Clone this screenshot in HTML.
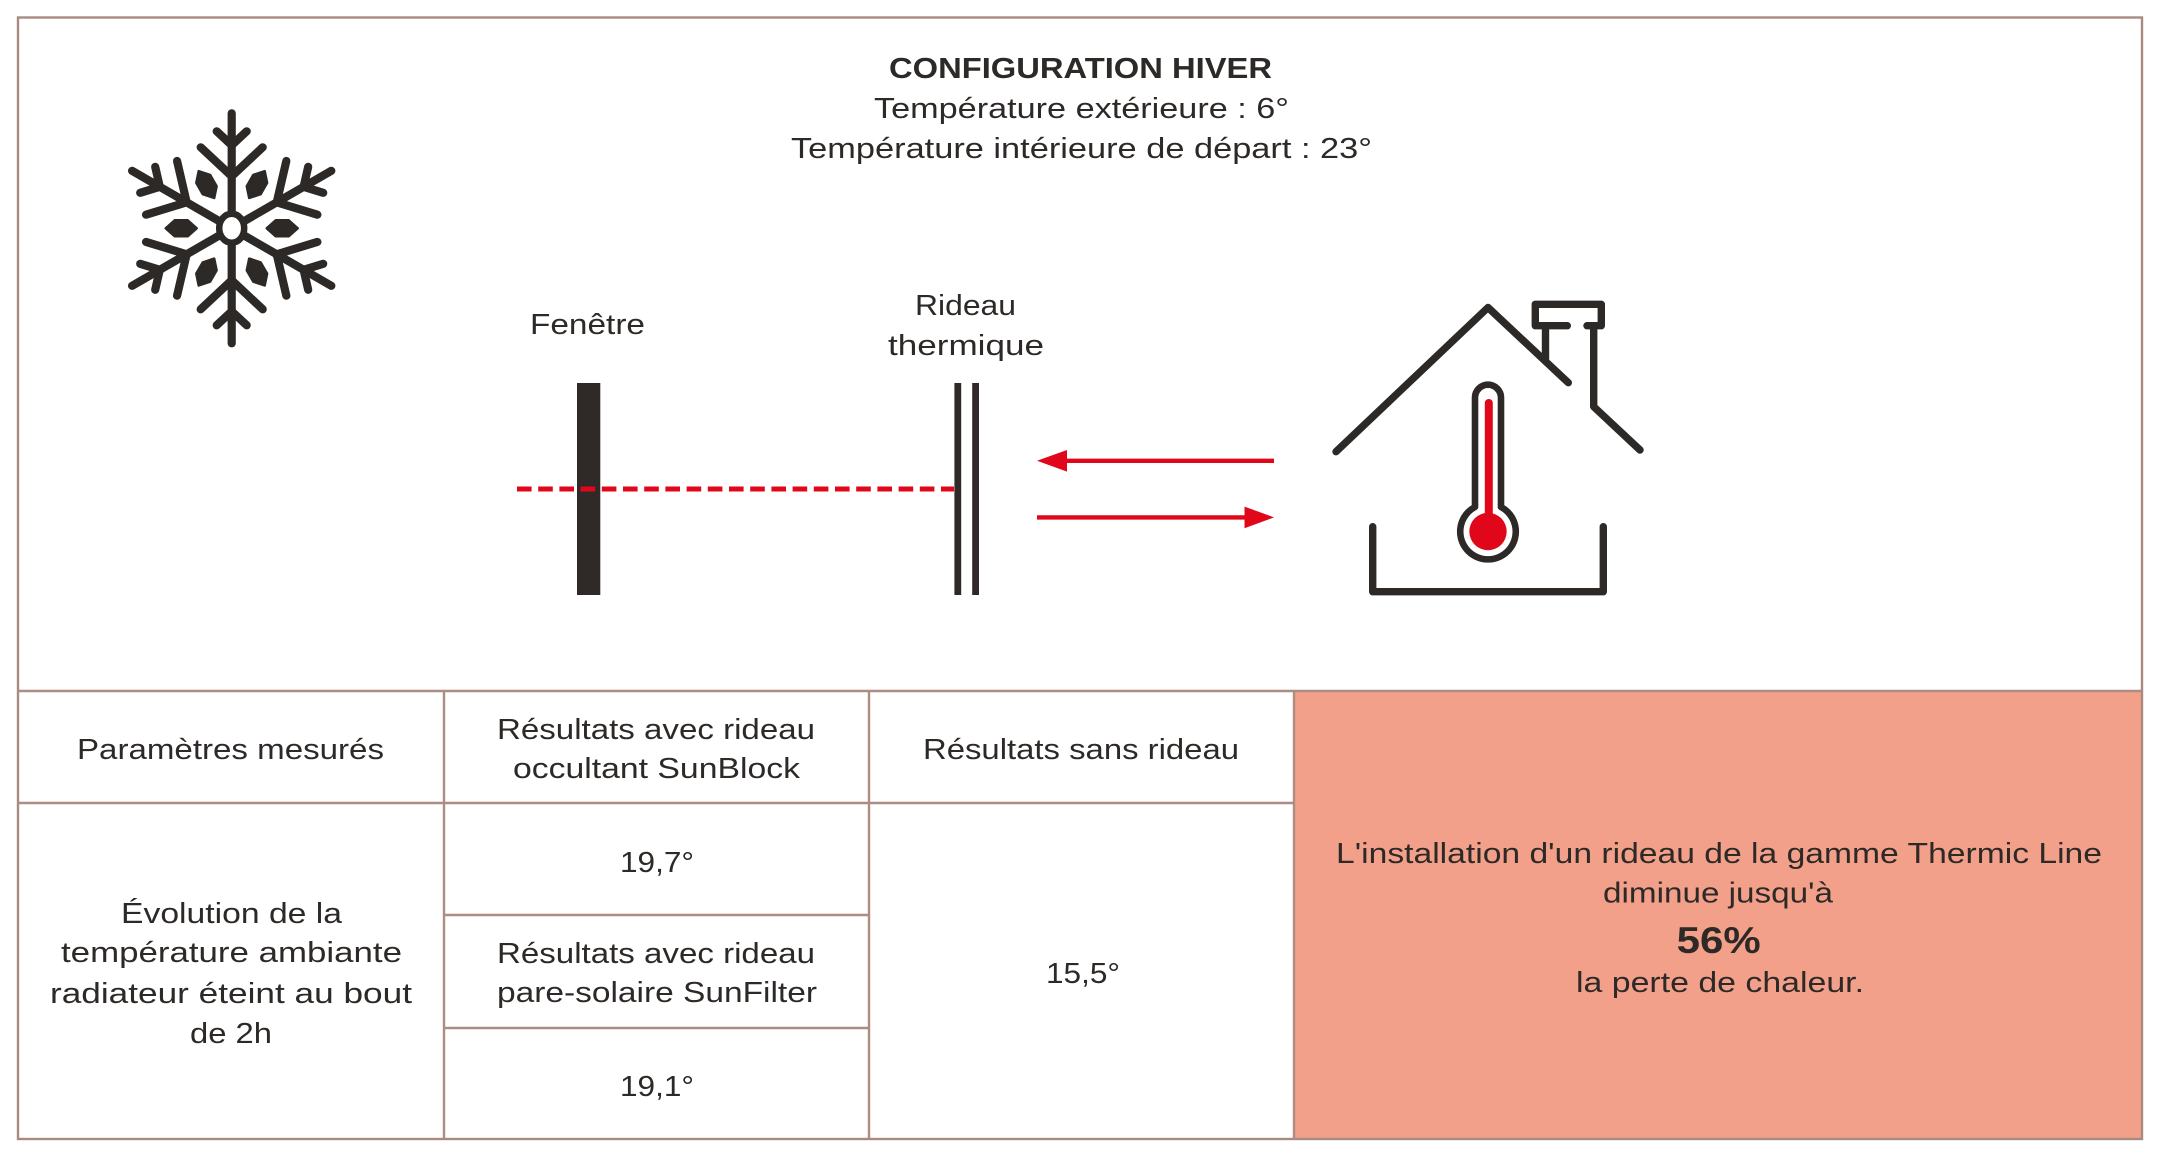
<!DOCTYPE html>
<html>
<head>
<meta charset="utf-8">
<style>
  html, body { margin:0; padding:0; background:#ffffff; }
  body { width:2161px; height:1157px; overflow:hidden; }
  svg { display:block; }
  text { font-family: "Liberation Sans", "DejaVu Sans", sans-serif; fill:#2d2927; }
</style>
</head>
<body>
<svg width="2161" height="1157" viewBox="0 0 2161 1157" xmlns="http://www.w3.org/2000/svg">
  <rect x="0" y="0" width="2161" height="1157" fill="#ffffff"/>

  <!-- Salmon result cell -->
  <rect x="1294" y="691" width="848" height="448" fill="#f3a08b"/>

  <!-- Outer border -->
  <rect x="18" y="17.5" width="2124" height="1121.5" fill="none" stroke="#a98a80" stroke-width="2.4"/>

  <!-- Table grid -->
  <g stroke="#ad8c82" stroke-width="2.4" fill="none">
    <line x1="18" y1="691" x2="2142" y2="691"/>
    <line x1="18" y1="803" x2="1294" y2="803"/>
    <line x1="444" y1="915" x2="869" y2="915"/>
    <line x1="444" y1="1028" x2="869" y2="1028"/>
    <line x1="444" y1="691" x2="444" y2="1139"/>
    <line x1="869" y1="691" x2="869" y2="1139"/>
    <line x1="1294" y1="691" x2="1294" y2="1139"/>
  </g>

  <!-- Header text -->
  <text x="1080.5" y="78" text-anchor="middle" font-size="29" font-weight="bold" textLength="383" lengthAdjust="spacingAndGlyphs">CONFIGURATION HIVER</text>
  <text x="1081.5" y="118" text-anchor="middle" font-size="29" textLength="415" lengthAdjust="spacingAndGlyphs">Température extérieure : 6°</text>
  <text x="1081.5" y="158" text-anchor="middle" font-size="29" textLength="581" lengthAdjust="spacingAndGlyphs">Température intérieure de départ : 23°</text>

  <!-- Snowflake -->
  <g transform="translate(231.7,228.3)" stroke="#2d2927" stroke-width="8.2" stroke-linecap="round" fill="none">
    <g>
      <line x1="0" y1="0" x2="0" y2="-115"/>
      <polyline points="-15,-97 0,-83 15,-97"/>
      <polyline points="-31,-81 0,-52 31,-81"/>
    </g>
    <g transform="rotate(60)">
      <line x1="0" y1="0" x2="0" y2="-115"/>
      <polyline points="-15,-97 0,-83 15,-97"/>
      <polyline points="-31,-81 0,-52 31,-81"/>
    </g>
    <g transform="rotate(120)">
      <line x1="0" y1="0" x2="0" y2="-115"/>
      <polyline points="-15,-97 0,-83 15,-97"/>
      <polyline points="-31,-81 0,-52 31,-81"/>
    </g>
    <g transform="rotate(180)">
      <line x1="0" y1="0" x2="0" y2="-115"/>
      <polyline points="-15,-97 0,-83 15,-97"/>
      <polyline points="-31,-81 0,-52 31,-81"/>
    </g>
    <g transform="rotate(240)">
      <line x1="0" y1="0" x2="0" y2="-115"/>
      <polyline points="-15,-97 0,-83 15,-97"/>
      <polyline points="-31,-81 0,-52 31,-81"/>
    </g>
    <g transform="rotate(300)">
      <line x1="0" y1="0" x2="0" y2="-115"/>
      <polyline points="-15,-97 0,-83 15,-97"/>
      <polyline points="-31,-81 0,-52 31,-81"/>
    </g>
    <g fill="#2d2927" stroke-width="2.5" stroke-linejoin="round">
      <polygon transform="rotate(30)" points="0,-35 -8,-44 -8,-57 0,-66 8,-57 8,-44"/>
      <polygon transform="rotate(90)" points="0,-35 -8,-44 -8,-57 0,-66 8,-57 8,-44"/>
      <polygon transform="rotate(150)" points="0,-35 -8,-44 -8,-57 0,-66 8,-57 8,-44"/>
      <polygon transform="rotate(210)" points="0,-35 -8,-44 -8,-57 0,-66 8,-57 8,-44"/>
      <polygon transform="rotate(270)" points="0,-35 -8,-44 -8,-57 0,-66 8,-57 8,-44"/>
      <polygon transform="rotate(330)" points="0,-35 -8,-44 -8,-57 0,-66 8,-57 8,-44"/>
    </g>
    <ellipse cx="0" cy="0" rx="12.5" ry="14.5" fill="#ffffff" stroke-width="6.5"/>
  </g>

  <!-- Labels -->
  <text x="587.5" y="334" text-anchor="middle" font-size="29" textLength="115" lengthAdjust="spacingAndGlyphs">Fenêtre</text>
  <text x="965.5" y="315" text-anchor="middle" font-size="29" textLength="101" lengthAdjust="spacingAndGlyphs">Rideau</text>
  <text x="966" y="355" text-anchor="middle" font-size="29" textLength="156" lengthAdjust="spacingAndGlyphs">thermique</text>

  <!-- Window -->
  <rect x="577" y="383" width="23.3" height="212" fill="#2f2a28"/>
  <!-- Curtain -->
  <rect x="954.4" y="383" width="6.8" height="212" fill="#2f2a28"/>
  <rect x="972.2" y="383" width="6.8" height="212" fill="#2f2a28"/>
  <!-- Dashed line -->
  <line x1="517" y1="489" x2="954" y2="489" stroke="#e1071b" stroke-width="5" stroke-dasharray="14.6 6.6"/>

  <!-- Arrows -->
  <line x1="1064" y1="460.8" x2="1274" y2="460.8" stroke="#e1071b" stroke-width="4.4"/>
  <polygon points="1037,460.8 1067,450 1067,471.6" fill="#e1071b"/>
  <line x1="1037" y1="517.4" x2="1247" y2="517.4" stroke="#e1071b" stroke-width="4.4"/>
  <polygon points="1274,517.4 1244.5,506.6 1244.5,528.2" fill="#e1071b"/>

  <!-- House -->
  <g stroke="#2d2927" stroke-width="7.4" stroke-linecap="round" stroke-linejoin="round" fill="none">
    <polyline points="1336,451.7 1488,307.5 1568.3,382.7"/>
    <polyline points="1567.3,325.7 1535.3,325.7 1535.3,304.3 1601.3,304.3 1601.3,325.7 1587,325.7"/>
    <line x1="1545.5" y1="325.7" x2="1545.5" y2="360"/>
    <polyline points="1593.7,325.7 1593.7,406.7 1640,450"/>
    <polyline points="1372.7,526.7 1372.7,591.7 1603.3,591.7 1603.3,526.7"/>
    <path d="M1475,507 L1475,397.7 A13,13 0 0 1 1501,397.7 L1501,507 A27.8,27.8 0 1 1 1475,507 Z" stroke-width="6.6"/>
  </g>
  <line x1="1488.8" y1="403" x2="1488.8" y2="530" stroke="#e1071b" stroke-width="8" stroke-linecap="round"/>
  <circle cx="1488" cy="531.5" r="18.7" fill="#e1071b"/>

  <!-- Table text -->
  <text x="230.5" y="759" text-anchor="middle" font-size="29" textLength="307" lengthAdjust="spacingAndGlyphs">Paramètres mesurés</text>
  <text x="656" y="739" text-anchor="middle" font-size="29" textLength="318" lengthAdjust="spacingAndGlyphs">Résultats avec rideau</text>
  <text x="656.5" y="778" text-anchor="middle" font-size="29" textLength="287" lengthAdjust="spacingAndGlyphs">occultant SunBlock</text>
  <text x="1081" y="759" text-anchor="middle" font-size="29" textLength="316" lengthAdjust="spacingAndGlyphs">Résultats sans rideau</text>

  <text x="657" y="872" text-anchor="middle" font-size="29" textLength="74" lengthAdjust="spacingAndGlyphs">19,7°</text>
  <text x="656" y="963" text-anchor="middle" font-size="29" textLength="318" lengthAdjust="spacingAndGlyphs">Résultats avec rideau</text>
  <text x="657" y="1002" text-anchor="middle" font-size="29" textLength="320" lengthAdjust="spacingAndGlyphs">pare-solaire SunFilter</text>
  <text x="657" y="1096" text-anchor="middle" font-size="29" textLength="74" lengthAdjust="spacingAndGlyphs">19,1°</text>

  <text x="231.5" y="923" text-anchor="middle" font-size="29" textLength="221" lengthAdjust="spacingAndGlyphs">Évolution de la</text>
  <text x="231.5" y="962" text-anchor="middle" font-size="29" textLength="341" lengthAdjust="spacingAndGlyphs">température ambiante</text>
  <text x="231" y="1003" text-anchor="middle" font-size="29" textLength="362" lengthAdjust="spacingAndGlyphs">radiateur éteint au bout</text>
  <text x="231" y="1043" text-anchor="middle" font-size="29" textLength="82" lengthAdjust="spacingAndGlyphs">de 2h</text>

  <text x="1083" y="983" text-anchor="middle" font-size="29" textLength="74" lengthAdjust="spacingAndGlyphs">15,5°</text>

  <text x="1719" y="863" text-anchor="middle" font-size="29" textLength="766" lengthAdjust="spacingAndGlyphs">L'installation d'un rideau de la gamme Thermic Line</text>
  <text x="1718" y="902.5" text-anchor="middle" font-size="29" textLength="230" lengthAdjust="spacingAndGlyphs">diminue jusqu'à</text>
  <text x="1718.7" y="953" text-anchor="middle" font-size="37" font-weight="bold" textLength="84" lengthAdjust="spacingAndGlyphs">56%</text>
  <text x="1720" y="992" text-anchor="middle" font-size="29" textLength="288" lengthAdjust="spacingAndGlyphs">la perte de chaleur.</text>
</svg>
</body>
</html>
